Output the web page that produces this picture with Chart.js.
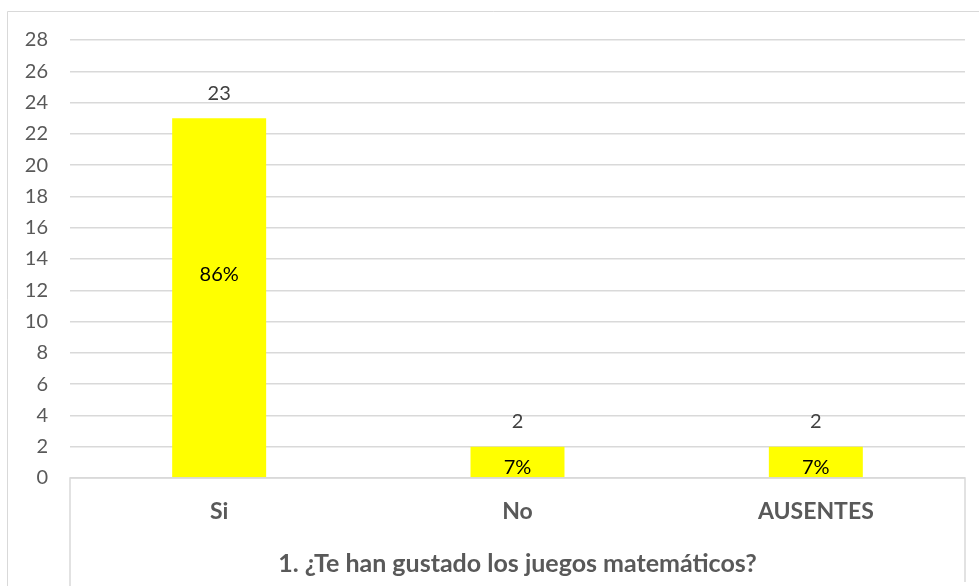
<!DOCTYPE html>
<html>
<head>
<meta charset="utf-8">
<script src="https://cdn.jsdelivr.net/npm/chart.js@4/dist/chart.umd.min.js"></script>
<style>
  html, body { margin: 0; padding: 0; background: #ffffff; }
  #wrap { width: 979px; height: 586px; position: relative; }
</style>
</head>
<body>
<div id="wrap"><canvas id="c" width="979" height="586"></canvas></div>
<script>
const categories = ["Si", "No", "AUSENTES"];
const counts = [23, 2, 2];
const percentLabels = ["86%", "7%", "7%"];
const percentLabelAt = [13, 0.65, 0.65];
const yTicks = [0, 2, 4, 6, 8, 10, 12, 14, 16, 18, 20, 22, 24, 26, 28];
const chartTitle = "1. ¿Te han gustado los juegos matemáticos?";

const FONT = "Lato, 'Open Sans', sans-serif";
const GRID = "#d9d9d9";

const framePlugin = {
  id: "frame",
  beforeDraw(chart) {
    const ctx = chart.ctx;
    ctx.save();
    ctx.fillStyle = "#ffffff";
    ctx.fillRect(0, 0, chart.width, chart.height);
    ctx.strokeStyle = GRID;
    ctx.lineWidth = 1;
    ctx.beginPath();
    ctx.moveTo(7.5, chart.height + 2);
    ctx.lineTo(7.5, 11.5);
    ctx.lineTo(chart.width + 2, 11.5);
    ctx.stroke();
    ctx.restore();
  },
  afterDatasetsDraw(chart) {
    const ctx = chart.ctx;
    const a = chart.chartArea;
    ctx.save();
    ctx.strokeStyle = GRID;
    ctx.lineWidth = 1.5;
    ctx.beginPath();
    ctx.moveTo(a.left, chart.height + 2);
    ctx.lineTo(a.left, a.bottom);
    ctx.lineTo(a.right, a.bottom);
    ctx.lineTo(a.right, chart.height - 4);
    ctx.stroke();
    const meta = chart.getDatasetMeta(0);
    const y = chart.scales.y;
    ctx.textAlign = "center";
    ctx.textBaseline = "middle";
    ctx.font = "20px " + FONT;
    meta.data.forEach((bar, i) => {
      ctx.fillStyle = "#404040";
      ctx.fillText(String(counts[i]), bar.x, bar.y - 25);
      ctx.fillStyle = "#000000";
      ctx.fillText(percentLabels[i], bar.x, y.getPixelForValue(percentLabelAt[i]));
    });
    // title centred under the plot area
    ctx.font = "bold 25px " + FONT;
    ctx.fillStyle = "#595959";
    ctx.fillText(chartTitle, (a.left + a.right) / 2, chart.scales.x.bottom + 14);
    ctx.restore();
  }
};

new Chart(document.getElementById("c"), {
  type: "bar",
  data: {
    labels: categories,
    datasets: [{
      data: counts,
      backgroundColor: "#ffff00",
      borderWidth: 0,
      categoryPercentage: 1,
      barPercentage: 0.315
    }]
  },
  options: {
    responsive: false,
    animation: false,
    layout: { padding: { left: 0, right: 14, top: 40, bottom: 36 } },
    plugins: {
      legend: { display: false },
      tooltip: { enabled: false },
      title: { display: false }
    },
    scales: {
      x: {
        grid: { display: false, drawTicks: false },
        border: { display: false },
        ticks: {
          color: "#595959",
          font: { family: FONT, size: 23, weight: "bold", lineHeight: 1.2 },
          padding: 20,
          maxRotation: 0
        },
        afterFit(scale) { scale.height = 72; }
      },
      y: {
        min: 0,
        max: 28,
        afterBuildTicks(scale) { scale.ticks = yTicks.map(v => ({ value: v })); },
        grid: { color: GRID, lineWidth: 1.5, drawTicks: false },
        border: { display: false },
        ticks: {
          color: "#595959",
          font: { family: FONT, size: 20 },
          padding: 22
        },
        afterFit(scale) { scale.width = 70; }
      }
    }
  },
  plugins: [framePlugin]
});
</script>
</body>
</html>
